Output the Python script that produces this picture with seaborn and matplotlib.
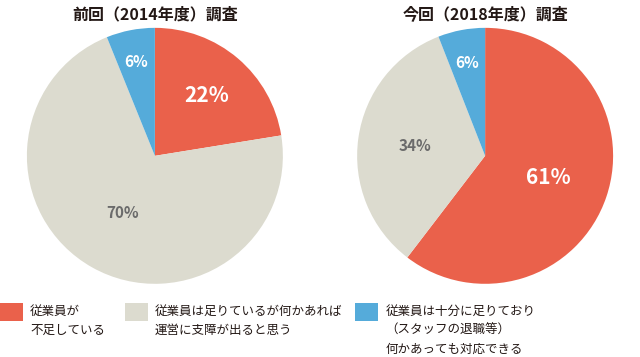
import numpy as np
import seaborn as sns
import matplotlib.pyplot as plt
from matplotlib.patches import Rectangle

sns.set_theme(style="white")
plt.rcParams['font.family'] = ['Noto Sans CJK JP', 'DejaVu Sans']

# data
titles = ['前回（2014年度）調査', '今回（2018年度）調査']
categories = ['従業員が\n不足している',
              '従業員は足りているが何かあれば\n運営に支障が出ると思う',
              '従業員は十分に足りており\n（スタッフの退職等）\n何かあっても対応できる']
values_2014 = [22, 70, 6]
values_2018 = [61, 34, 6]

colors = ['#EA614B', '#DCDBCF', '#55ABDA']
label_colors = ['white', '#6b6b6b', 'white']

fig = plt.figure(figsize=(6.4, 3.57), dpi=100)

ax_pos = [[0.042, 0.205, 0.40, 0.717], [0.558, 0.205, 0.40, 0.717]]
label_dist = [[0.62, 0.51, 0.75], [0.52, 0.55, 0.74]]
label_size = [[15, 11, 11], [15, 11, 11]]

for i, vals in enumerate([values_2014, values_2018]):
    ax = fig.add_axes(ax_pos[i])
    wedges, _ = ax.pie(vals, colors=colors, startangle=90, counterclock=False,
                       wedgeprops=dict(linewidth=0))
    for j, w in enumerate(wedges):
        ang = np.deg2rad((w.theta1 + w.theta2) / 2)
        d = label_dist[i][j]
        ax.text(d * np.cos(ang), d * np.sin(ang), f'{vals[j]}%',
                ha='center', va='center', color=label_colors[j],
                fontsize=label_size[i][j], fontweight='bold')
    ax.set_aspect('equal')
    ax.set_xlim(-1, 1)
    ax.set_ylim(-1, 1)
    fig.text(ax_pos[i][0] + 0.2, 0.96, titles[i], ha='center', va='center',
             fontsize=11.5, fontweight='bold', color='#231815')

# legend
leg_x = [0.0, 0.195, 0.555]
line_step = 19 / 357
for k, lab in enumerate(categories):
    fig.patches.append(Rectangle((leg_x[k], 0.10), 0.036, 0.05, transform=fig.transFigure,
                                 facecolor=colors[k], edgecolor='none'))
    for n, line in enumerate(lab.split('\n')):
        fig.text(leg_x[k] + 0.047, 0.118 - n * line_step, line, ha='left', va='baseline',
                 fontsize=9, color='#231815')

fig.savefig('out.png', dpi=100)
